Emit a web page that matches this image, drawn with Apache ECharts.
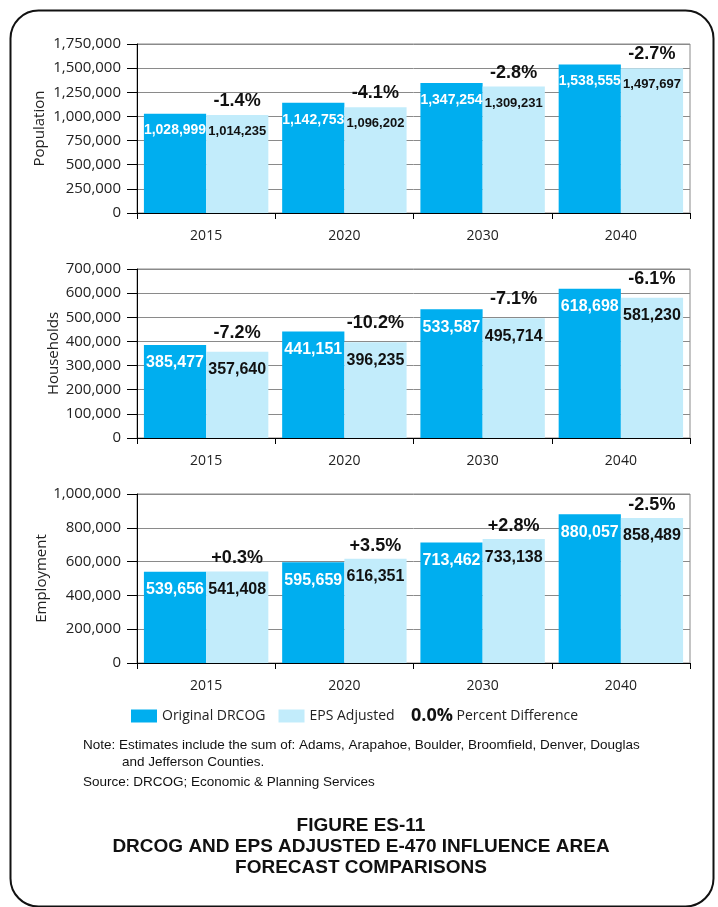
<!DOCTYPE html>
<html>
<head>
<meta charset="utf-8">
<script src="https://cdn.jsdelivr.net/npm/echarts@6/dist/echarts.min.js"></script>
<style>
  html, body { margin: 0; padding: 0; background: #fff; }
  #chart { width: 718px; height: 907px; }
</style>
</head>
<body>
<div id="chart"></div>
<script>
// Forecast years (shared category axis)
const years = ['2015', '2020', '2030', '2040'];

// Population
const popOriginal = [1028999, 1142753, 1347254, 1538555];
const popAdjusted = [1014235, 1096202, 1309231, 1497697];
const popPct = ['-1.4%', '-4.1%', '-2.8%', '-2.7%'];

// Households
const hhOriginal = [385477, 441151, 533587, 618698];
const hhAdjusted = [357640, 396235, 495714, 581230];
const hhPct = ['-7.2%', '-10.2%', '-7.1%', '-6.1%'];

// Employment
const empOriginal = [539656, 595659, 713462, 880057];
const empAdjusted = [541408, 616351, 733138, 858489];
const empPct = ['+0.3%', '+3.5%', '+2.8%', '-2.5%'];

// Axis ranges
const axisMax = [1750000, 700000, 1000000];
const axisStep = [250000, 100000, 200000];
const axisNames = ['Population', 'Households', 'Employment'];

const BLUE = '#00AEEF';
const LIGHT = '#C2ECFB';
const GRID_LINE = '#8a8a8a';
const TICK_FONT = '"Open Sans", sans-serif';
const VALUE_FONT = '"Liberation Sans", Arial, sans-serif';
const NOTE_FONT = '"Liberation Sans", Arial, sans-serif';

const fmt = v => Number(v).toLocaleString('en-US');

const panels = [
  { orig: popOriginal, adj: popAdjusted, pct: popPct, top: 44, height: 169, nameGap: 90, valSize: 14, adjSize: 13, pctDist: 4 },
  { orig: hhOriginal, adj: hhAdjusted, pct: hhPct, top: 269, height: 169, nameGap: 76, valSize: 16, adjSize: 16, pctDist: 9 },
  { orig: empOriginal, adj: empAdjusted, pct: empPct, top: 494, height: 169, nameGap: 88, valSize: 16, adjSize: 16, pctDist: 3 }
];

const grid = [], xAxis = [], yAxis = [], series = [];

panels.forEach((p, i) => {
  grid.push({
    left: 137, right: 28, top: p.top, height: p.height,
    show: true, borderColor: GRID_LINE, borderWidth: 1, backgroundColor: 'transparent'
  });
  xAxis.push({
    type: 'category', gridIndex: i, data: years,
    axisLine: { lineStyle: { color: '#000', width: 1 } },
    axisTick: { show: true, length: 6, lineStyle: { color: '#000' } },
    axisLabel: { color: '#222', fontSize: 14, fontFamily: TICK_FONT, margin: 16 }
  });
  yAxis.push({
    type: 'value', gridIndex: i, min: 0, max: axisMax[i], interval: axisStep[i],
    name: axisNames[i], nameLocation: 'middle', nameGap: p.nameGap, nameMoveOverlap: false,
    nameTextStyle: { color: '#222', fontSize: 15, fontFamily: TICK_FONT },
    axisLine: { show: true, lineStyle: { color: '#000', width: 1 } },
    axisTick: { show: true, length: 10, lineStyle: { color: '#000' } },
    axisLabel: { color: '#222', fontSize: 15, fontFamily: TICK_FONT, margin: 16, formatter: fmt },
    splitLine: { show: true, lineStyle: { color: GRID_LINE, width: 1 } }
  });
  series.push({
    name: 'Original DRCOG', type: 'bar', xAxisIndex: i, yAxisIndex: i,
    data: p.orig, barGap: '0%', barCategoryGap: '10%',
    itemStyle: { color: BLUE },
    label: {
      show: true, position: 'insideTop', distance: 10, color: '#fff',
      fontSize: p.valSize, fontWeight: 'bold', fontFamily: VALUE_FONT,
      formatter: d => fmt(d.value)
    }
  });
  series.push({
    name: 'EPS Adjusted', type: 'bar', xAxisIndex: i, yAxisIndex: i,
    data: p.adj, barGap: '0%', barCategoryGap: '10%',
    itemStyle: { color: LIGHT },
    label: {
      show: true, position: 'insideTop', distance: 10, color: '#111',
      fontSize: p.adjSize, fontWeight: 'bold', fontFamily: VALUE_FONT,
      formatter: d => fmt(d.value)
    }
  });
  // Percent difference, set above the adjusted bar
  series.push({
    name: 'Percent Difference', type: 'scatter', xAxisIndex: i, yAxisIndex: i,
    data: p.adj, symbolSize: 2, itemStyle: { color: 'rgba(0,0,0,0)', opacity: 1 }, silent: true, z: 5,
    label: {
      show: true, position: 'top', distance: p.pctDist, offset: [31, 0], opacity: 1,
      color: '#111', fontSize: 18, fontWeight: 'bold', fontFamily: VALUE_FONT,
      formatter: d => p.pct[d.dataIndex]
    }
  });
});

const chart = echarts.init(document.getElementById('chart'), null, { renderer: 'canvas' });
chart.setOption({
  animation: false,
  backgroundColor: '#fff',
  grid, xAxis, yAxis, series,
  legend: [
    {
      data: ['Original DRCOG', 'EPS Adjusted'], left: 126, top: 704,
      icon: 'rect', itemWidth: 26, itemHeight: 13, itemGap: 13, selectedMode: false,
      textStyle: { color: '#222', fontSize: 14, fontFamily: TICK_FONT }
    },
    {
      data: ['Percent Difference'], left: 401, top: 702,
      icon: 'none', itemWidth: 0, itemGap: 0, selectedMode: false,
      formatter: name => '{b|0.0%} ' + name,
      textStyle: {
        color: '#222', fontSize: 14, fontFamily: TICK_FONT,
        rich: { b: { fontSize: 18, fontWeight: 'bold', fontFamily: TICK_FONT, color: '#111' } }
      }
    }
  ],
  graphic: [
    {
      type: 'rect', left: 8, top: 8, silent: true, z: -10,
      shape: { width: 703, height: 896, r: 28 },
      style: { fill: 'none', stroke: '#111', lineWidth: 2 }
    },
    {
      type: 'text', left: 83, top: 738,
      style: {
        text: 'Note: Estimates include the sum of: Adams, Arapahoe, Boulder, Broomfield, Denver, Douglas',
        font: '13.5px ' + NOTE_FONT, fill: '#111'
      }
    },
    {
      type: 'text', left: 122, top: 755,
      style: { text: 'and Jefferson Counties.', font: '13.5px ' + NOTE_FONT, fill: '#111' }
    },
    {
      type: 'text', left: 83, top: 775,
      style: { text: 'Source: DRCOG; Economic & Planning Services', font: '13.5px ' + NOTE_FONT, fill: '#111' }
    },
    {
      type: 'text', x: 361, y: 815,
      style: {
        text: 'FIGURE ES-11\nDRCOG AND EPS ADJUSTED E-470 INFLUENCE AREA\nFORECAST COMPARISONS',
        font: 'bold 19px ' + NOTE_FONT, fill: '#111',
        align: 'center', verticalAlign: 'top', lineHeight: 21
      }
    }
  ]
});
</script>
</body>
</html>
